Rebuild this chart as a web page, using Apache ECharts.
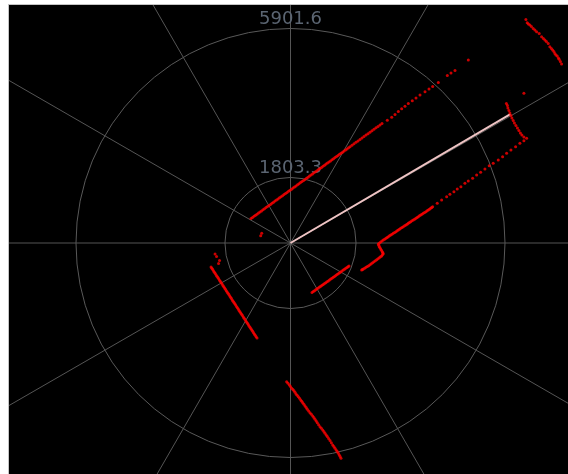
<!DOCTYPE html>
<html>
<head>
<meta charset="utf-8">
<script src="https://cdn.jsdelivr.net/npm/echarts@6/dist/echarts.min.js"></script>
<style>
html,body{margin:0;padding:0;background:#ffffff;overflow:hidden;width:568px;height:474px;}
#chart{position:absolute;left:8px;top:4px;width:600px;height:520px;border:1px solid #c4c4c4;background:#000000;}
</style>
</head>
<body>
<div id="chart"></div>
<script>
// radius tick values (mm)
const radiusTicks = [1803.3, 5901.6];
const radiusMax = 11005;
// scan points, cartesian [x, y] in mm (x east, y north)
const wallUpperLeft = [
[-1087,674],[-1046,705],[-1004,735],[-963,764],[-922,792],[-881,823],[-839,853],[-798,883],[-757,913],[-716,944],
[-674,974],[-633,1003],[-592,1032],[-551,1062],[-509,1092],[-468,1123],[-427,1153],[-386,1183],[-344,1213],[-303,1242],
[-261,1271],[-220,1302],[-179,1332],[-138,1362],[-96,1392],[-55,1423],[-14,1453],[28,1482],[69,1511],[110,1541],
[151,1571],[193,1602],[234,1632],[275,1662],[316,1692],[358,1721],[399,1750],[441,1780],[482,1810],[523,1841],
[564,1871],[606,1901],[647,1931],[688,1960],[729,1989],[771,2020],[812,2050],[853,2080],[894,2110],[936,2141],
[977,2171],[1018,2200],[1059,2229],[1101,2259],[1142,2289],[1183,2320],[1224,2350],[1266,2380],[1307,2410],[1348,2439],
[1389,2468],[1431,2498],[1472,2528],[1514,2559],[1555,2589],[1596,2620],[1637,2650],[1692,2690],[1747,2729],[1802,2769],
[1857,2809],[1912,2849],[1967,2889],[2022,2929],[2077,2969],[2132,3009],[2187,3048],[2242,3088],[2297,3128],[2352,3168],
[2407,3208],[2462,3248],[2517,3288],
[2663,3376],[2784,3458],[2875,3535],[2966,3618],[3059,3692],[3150,3764],[3241,3835],[3351,3915],
[3453,3989],[3563,4072],[3701,4163],[3811,4237],[3912,4306],[4066,4416],[4314,4608],[4416,4677],[4526,4746],[4892,5035]
];
const strayNearCentre = [[-820,201],[-792,267]];
const wallLowerRight = [
[2415,-28],[2448,0],[2481,28],[2517,56],[2552,83],[2589,106],[2626,129],[2658,151],[2690,173],[2723,197],
[2756,220],[2792,244],[2827,267],[2864,289],[2901,311],[2933,335],[2965,358],[2998,381],[3031,404],[3067,426],
[3102,448],[3139,472],[3176,495],[3208,519],[3240,542],[3273,564],[3306,586],[3342,610],[3377,633],[3414,656],
[3451,679],[3483,701],[3515,723],[3548,747],[3581,770],[3617,794],[3652,817],[3689,839],[3726,861],[3758,885],
[3790,908],[3823,931],[3856,954],[3884,976],[3911,998],
[4037,1092],[4158,1183],[4296,1273],[4386,1339],[4496,1411],[4587,1485],[4689,1548],
[4799,1642],[4890,1705],[5011,1779],[5121,1870],[5231,1944],[5349,2035],[5467,2126],[5577,2192],[5715,2283],[5836,2373],
[5946,2467],[6064,2558],[6193,2648],[6311,2742],[6421,2813],[6496,2879]
];
const stepLowerRight = [
[2429,-65],[2442,-102],[2462,-134],[2481,-165],[2503,-202],[2525,-239],[2539,-267],[2552,-294],[2530,-326],[2508,-358],
[2475,-381],[2442,-404],[2407,-432],[2371,-459],[2334,-487],[2296,-514],[2259,-542],[2222,-569],[2187,-597],[2151,-624],
[2114,-646],[2076,-668],[2039,-692],[2002,-715],[1980,-729],[1958,-743]
];
const farCornerRight = [
[5940,3836],[5968,3781],[5981,3713],[6009,3644],[6036,3575],[6064,3506],[6091,3438],[6127,3369],[6160,3300],[6201,3231],
[6243,3163],[6284,3094],[6325,3025],[6366,2970],[6421,2915],[6421,4117]
];
const farWallTopRight = [
[6476,6152],[6512,6058],[6545,6023],[6586,5995],[6628,5954],[6677,5904],[6724,5858],[6771,5811],[6842,5767],[6908,5673],
[6958,5624],[6999,5583],[7040,5541],[7090,5492],[7136,5398],[7178,5349],[7211,5308],[7246,5266],[7274,5217],[7301,5170],
[7337,5143],[7370,5088],[7392,5052],[7425,4991],[7458,4923]
];
const wallBelowRight = [
[591,-1361],[626,-1337],[660,-1312],[695,-1287],[729,-1262],[764,-1238],[798,-1213],[832,-1188],[866,-1163],[901,-1139],
[935,-1114],[970,-1091],[1004,-1067],[1039,-1043],[1073,-1018],[1107,-993],[1141,-968],[1176,-944],[1210,-919],[1245,-894],
[1279,-869],[1314,-845],[1348,-820],[1382,-795],[1416,-770],[1451,-746],[1485,-721],[1520,-696],[1554,-671],[1582,-652],[1609,-633]
];
const wallLowerLeft = [
[-2076,-303],[-2035,-371],[-1953,-481],[-1980,-564],
[-2186,-660],[-2163,-696],[-2140,-732],[-2117,-769],[-2093,-806],[-2070,-842],[-2046,-877],[-2023,-913],[-1999,-949],[-1976,-986],
[-1953,-1023],[-1930,-1059],[-1906,-1095],[-1883,-1131],[-1859,-1166],[-1836,-1202],[-1812,-1238],[-1789,-1275],[-1766,-1312],[-1743,-1348],
[-1719,-1383],[-1696,-1419],[-1672,-1455],[-1649,-1492],[-1625,-1529],[-1602,-1565],[-1579,-1601],[-1556,-1637],[-1532,-1672],[-1509,-1708],
[-1485,-1744],[-1462,-1781],[-1438,-1818],[-1415,-1854],[-1392,-1889],[-1369,-1925],[-1345,-1961],[-1322,-1998],[-1298,-2035],[-1275,-2071],
[-1251,-2107],[-1228,-2143],[-1205,-2178],[-1182,-2215],[-1158,-2252],[-1135,-2288],[-1111,-2324],[-1088,-2360],[-1064,-2395],[-1041,-2431],
[-1018,-2467],[-995,-2504],[-971,-2541],[-946,-2577],[-921,-2613]
];
const wallBottom = [
[-105,-3814],[-69,-3860],[-33,-3905],[0,-3951],[33,-3996],[65,-4029],[96,-4062],[124,-4108],[151,-4153],[183,-4190],
[215,-4227],[248,-4273],[281,-4318],[309,-4355],[336,-4392],[368,-4438],[399,-4483],[431,-4528],[462,-4573],[499,-4620],
[536,-4667],[574,-4713],[611,-4758],[643,-4803],[674,-4848],[706,-4895],[737,-4942],[774,-4997],[811,-5052],[849,-5098],
[886,-5143],[918,-5188],[949,-5233],[981,-5280],[1012,-5327],[1049,-5382],[1086,-5437],[1124,-5496],[1161,-5555],[1193,-5601],
[1224,-5646],[1256,-5693],[1287,-5739],[1315,-5785],[1342,-5830],[1366,-5876],[1389,-5921]
];
// heading ray end point [x, y] in mm
const headingEnd = [6050, 3548];

function toPolar(p) {
  const r = Math.hypot(p[0], p[1]);
  let a = Math.atan2(p[0], p[1]) * 180 / Math.PI;
  if (a < 0) a += 360;
  return [r, a];
}
const scanPoints = [].concat(wallUpperLeft, strayNearCentre, wallLowerRight, stepLowerRight,
  farCornerRight, farWallTopRight, wallBelowRight, wallLowerLeft, wallBottom).map(toPolar);
const headEnd = toPolar(headingEnd);

const chart = echarts.init(document.getElementById('chart'), null, {renderer: 'canvas'});
chart.setOption({
  backgroundColor: '#000000',
  animation: false,
  polar: {center: [281.5, 238], radius: 400},
  angleAxis: {
    type: 'value', min: 0, max: 360, interval: 30, startAngle: 90, clockwise: true,
    axisLine: {show: false}, axisTick: {show: false}, axisLabel: {show: false},
    splitLine: {show: true, lineStyle: {color: '#555555', width: 1}}
  },
  radiusAxis: {
    type: 'value', min: 0, max: radiusMax,
    axisLine: {show: false},
    axisTick: {show: false, customValues: radiusTicks},
    axisLabel: {
      show: true, customValues: radiusTicks, margin: 0, align: 'center', verticalAlign: 'bottom',
      color: '#5b6572', fontSize: 18, fontFamily: 'DejaVu Sans',
      formatter: v => v.toFixed(1)
    },
    splitLine: {show: true, lineStyle: {color: '#595959', width: 1}}
  },
  series: [
    {type: 'line', coordinateSystem: 'polar', data: [[0, 0], headEnd], symbol: 'none',
     lineStyle: {color: '#efc4c4', width: 2}, z: 3},
    {type: 'scatter', coordinateSystem: 'polar', data: scanPoints, symbol: 'circle', symbolSize: 3,
     itemStyle: {color: '#ff0000'}, z: 4}
  ]
});
</script>
</body>
</html>
